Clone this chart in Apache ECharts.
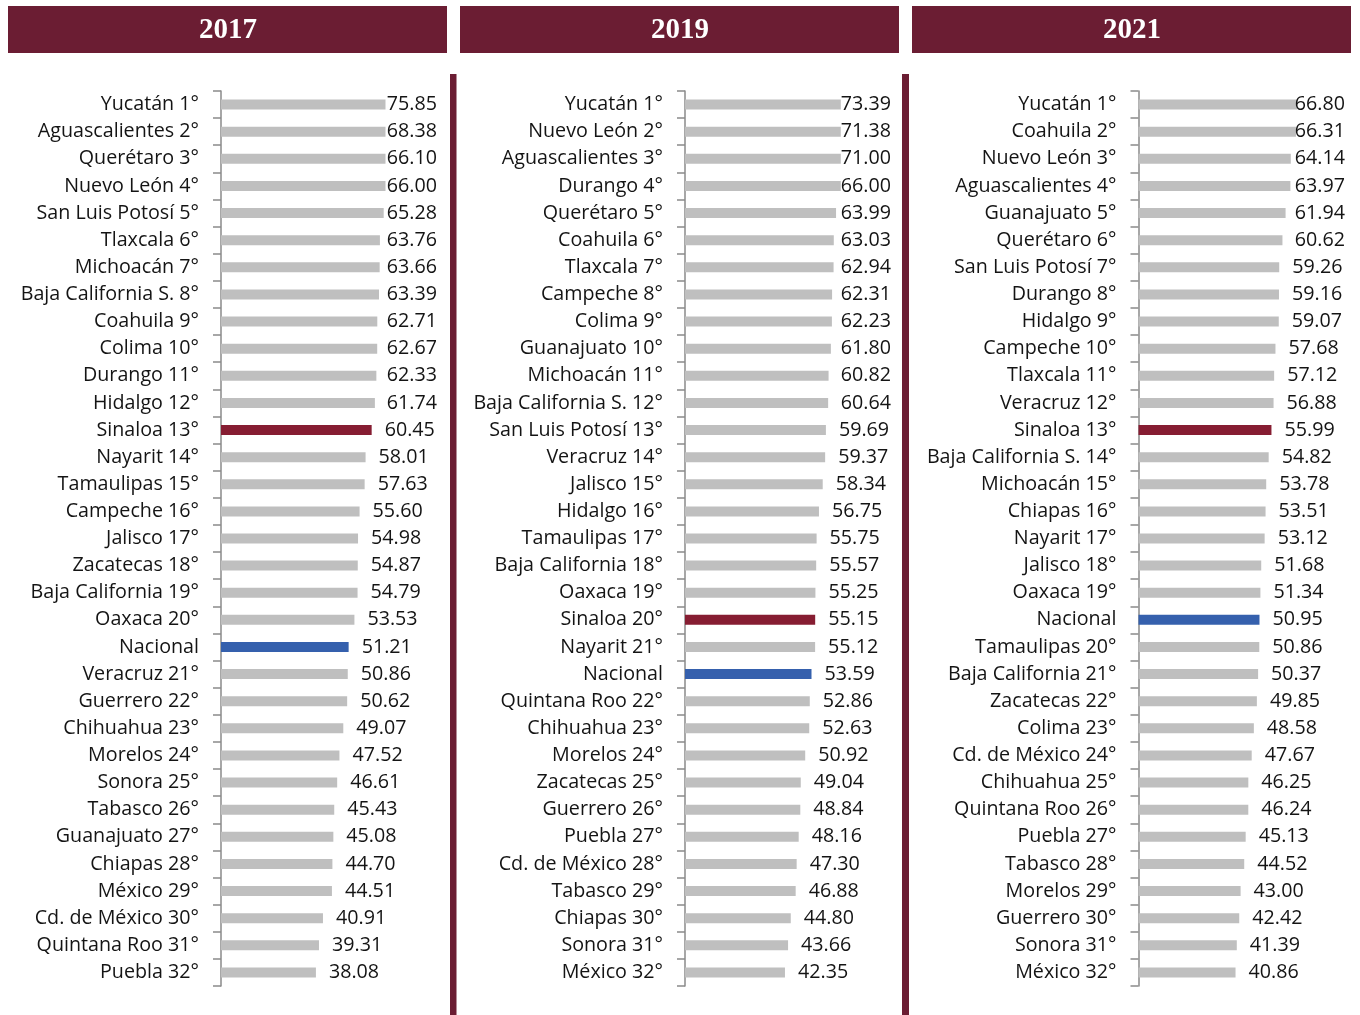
<!DOCTYPE html>
<html>
<head>
<meta charset="utf-8">
<script src="https://cdn.jsdelivr.net/npm/echarts@6/dist/echarts.min.js"></script>
<style>
html,body{margin:0;padding:0;background:#fff;}
#c{width:1360px;height:1015px;}
</style>
</head>
<body>
<div id="c"></div>
<script>
const years = ['2017', '2019', '2021'];

const cats2017 = ['Yucatán 1°','Aguascalientes 2°','Querétaro 3°','Nuevo León 4°','San Luis Potosí 5°','Tlaxcala 6°','Michoacán 7°','Baja California S. 8°','Coahuila 9°','Colima 10°','Durango 11°','Hidalgo 12°','Sinaloa 13°','Nayarit 14°','Tamaulipas 15°','Campeche 16°','Jalisco 17°','Zacatecas 18°','Baja California 19°','Oaxaca 20°','Nacional','Veracruz 21°','Guerrero 22°','Chihuahua 23°','Morelos 24°','Sonora 25°','Tabasco 26°','Guanajuato 27°','Chiapas 28°','México 29°','Cd. de México 30°','Quintana Roo 31°','Puebla 32°'];
const vals2017 = [75.85,68.38,66.10,66.00,65.28,63.76,63.66,63.39,62.71,62.67,62.33,61.74,60.45,58.01,57.63,55.60,54.98,54.87,54.79,53.53,51.21,50.86,50.62,49.07,47.52,46.61,45.43,45.08,44.70,44.51,40.91,39.31,38.08];

const cats2019 = ['Yucatán 1°','Nuevo León 2°','Aguascalientes 3°','Durango 4°','Querétaro 5°','Coahuila 6°','Tlaxcala 7°','Campeche 8°','Colima 9°','Guanajuato 10°','Michoacán 11°','Baja California S. 12°','San Luis Potosí 13°','Veracruz 14°','Jalisco 15°','Hidalgo 16°','Tamaulipas 17°','Baja California 18°','Oaxaca 19°','Sinaloa 20°','Nayarit 21°','Nacional','Quintana Roo 22°','Chihuahua 23°','Morelos 24°','Zacatecas 25°','Guerrero 26°','Puebla 27°','Cd. de México 28°','Tabasco 29°','Chiapas 30°','Sonora 31°','México 32°'];
const vals2019 = [73.39,71.38,71.00,66.00,63.99,63.03,62.94,62.31,62.23,61.80,60.82,60.64,59.69,59.37,58.34,56.75,55.75,55.57,55.25,55.15,55.12,53.59,52.86,52.63,50.92,49.04,48.84,48.16,47.30,46.88,44.80,43.66,42.35];

const cats2021 = ['Yucatán 1°','Coahuila 2°','Nuevo León 3°','Aguascalientes 4°','Guanajuato 5°','Querétaro 6°','San Luis Potosí 7°','Durango 8°','Hidalgo 9°','Campeche 10°','Tlaxcala 11°','Veracruz 12°','Sinaloa 13°','Baja California S. 14°','Michoacán 15°','Chiapas 16°','Nayarit 17°','Jalisco 18°','Oaxaca 19°','Nacional','Tamaulipas 20°','Baja California 21°','Zacatecas 22°','Colima 23°','Cd. de México 24°','Chihuahua 25°','Quintana Roo 26°','Puebla 27°','Tabasco 28°','Morelos 29°','Guerrero 30°','Sonora 31°','México 32°'];
const vals2021 = [66.80,66.31,64.14,63.97,61.94,60.62,59.26,59.16,59.07,57.68,57.12,56.88,55.99,54.82,53.78,53.51,53.12,51.68,51.34,50.95,50.86,50.37,49.85,48.58,47.67,46.25,46.24,45.13,44.52,43.00,42.42,41.39,40.86];

const axisMax = [66, 66, 67];

const allCats = [cats2017, cats2019, cats2021];
const allVals = [vals2017, vals2019, vals2021];

const FONT = 'Open Sans';
const FS = 19.7;
const MAROON = '#6B1D33';
const gridLeft = [221, 685, 1138.5];
const gridWidth = [164.5, 155.8, 159.1];
const labelLimit = [437, 891, 1345];
const TOP = 91, HEIGHT = 895;

function barColor(name) {
  if (name.indexOf('Sinaloa') === 0) return '#861D32';
  if (name === 'Nacional') return '#3560AD';
  return '#BFBFBF';
}

const grids = [], xAxes = [], yAxes = [], series = [], graphics = [];
for (let i = 0; i < 3; i++) {
  grids.push({left: gridLeft[i], top: TOP, width: gridWidth[i], height: HEIGHT, containLabel: false});
  xAxes.push({type: 'value', gridIndex: i, min: 0, max: axisMax[i], show: false});
  yAxes.push({
    type: 'category', gridIndex: i, inverse: true, data: allCats[i],
    axisLine: {show: true, lineStyle: {color: '#8A8A8A', width: 1.5}},
    axisTick: {show: true, length: 8, lineStyle: {color: '#8A8A8A', width: 1.5}},
    axisLabel: {margin: 22, color: '#141414', fontSize: FS, fontFamily: FONT}
  });
  const cats = allCats[i];
  series.push({
    type: 'bar', xAxisIndex: i, yAxisIndex: i, barWidth: 10, clip: true,
    data: allVals[i].map((v, k) => ({value: v, itemStyle: {color: barColor(cats[k])}})),
    label: {show: true, position: 'right', distance: 13, color: '#141414', fontSize: FS, fontFamily: FONT,
      formatter: p => p.value.toFixed(2)},
    labelLayout: (function(lim){ return function(params){
      const r = params.labelRect;
      const over = r.x + r.width - lim;
      return over > 0 ? {dx: -over} : {};
    };})(labelLimit[i]),
    animation: false
  });
}

const headerX = [8, 460, 912];
for (let i = 0; i < 3; i++) {
  graphics.push({type: 'rect', left: headerX[i], top: 6, shape: {width: 439, height: 47}, style: {fill: MAROON}});
  graphics.push({type: 'text', x: headerX[i] + 220, y: 31,
    style: {text: years[i], fill: '#fff', font: 'bold 29px "Liberation Serif"', textAlign: 'center', textVerticalAlign: 'middle'}});
}
graphics.push({type: 'rect', left: 450, top: 74, shape: {width: 6.5, height: 941}, style: {fill: MAROON}});
graphics.push({type: 'rect', left: 902, top: 74, shape: {width: 7, height: 941}, style: {fill: MAROON}});

const chart = echarts.init(document.getElementById('c'), null, {renderer: 'canvas'});
chart.setOption({
  animation: false,
  backgroundColor: '#fff',
  grid: grids, xAxis: xAxes, yAxis: yAxes, series: series, graphic: graphics
});
</script>
</body>
</html>
